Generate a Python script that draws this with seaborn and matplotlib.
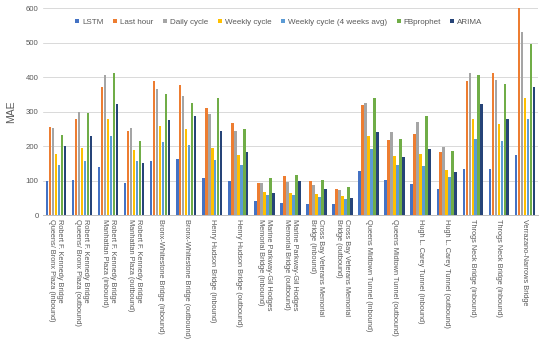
import pandas as pd
import numpy as np
import matplotlib
matplotlib.use("Agg")
import matplotlib.pyplot as plt
import seaborn as sns

# --- data ---
bridges = [
    "Robert F. Kennedy Bridge\nQueens/ Bronx Plaza (inbound)",
    "Robert F. Kennedy Bridge\nQueens/ Bronx Plaza (outbound)",
    "Robert F. Kennedy Bridge\nManhattan Plaza (inbound)",
    "Robert F. Kennedy Bridge\nManhattan Plaza (outbound)",
    "Bronx-Whitestone Bridge (inbound)",
    "Bronx-Whitestone Bridge (outbound)",
    "Henry Hudson Bridge (inbound)",
    "Henry Hudson Bridge (outbound)",
    "Marine Parkway-Gil Hodges\nMemorial Bridge (inbound)",
    "Marine Parkway-Gil Hodges\nMemorial Bridge (outbound)",
    "Cross Bay Veterans Memorial\nBridge (inbound)",
    "Cross Bay Veterans Memorial\nBridge (outbound)",
    "Queens Midtown Tunnel (inbound)",
    "Queens Midtown Tunnel (outbound)",
    "Hugh L. Carey Tunnel (inbound)",
    "Hugh L. Carey Tunnel (outbound)",
    "Throgs Neck Bridge (inbound)",
    "Throgs Neck Bridge (inbound) ",
    "Verrazano-Narrows Bridge",
]
models = ["LSTM", "Last hour", "Daily cycle", "Weekly cycle",
          "Weekly cycle (4 weeks avg)", "FBprophet", "ARIMA"]

lstm = [99, 103, 139, 95, 156, 164, 107, 99, 40, 37, 34, 32, 128, 103, 90, 77, 135, 133, 176]
last_hour = [256, 279, 373, 243, 388, 379, 312, 268, 93, 114, 99, 77, 320, 217, 236, 184, 389, 411, 603]
daily = [254, 300, 406, 252, 367, 346, 295, 245, 93, 96, 88, 74, 326, 240, 271, 198, 411, 391, 530]
weekly = [179, 195, 278, 189, 259, 251, 195, 176, 67, 64, 62, 56, 231, 172, 177, 130, 279, 264, 341]
weekly_4w = [147, 157, 231, 157, 211, 205, 161, 147, 59, 59, 54, 47, 193, 147, 143, 110, 221, 216, 278]
fbprophet = [234, 297, 412, 216, 351, 325, 340, 251, 108, 118, 103, 81, 341, 220, 287, 186, 407, 381, 496]
arima = [200, 231, 322, 151, 275, 289, 245, 184, 65, 99, 76, 50, 240, 170, 193, 125, 323, 278, 371]

colors = ["#4472C4", "#ED7D31", "#A5A5A5", "#FFC000", "#5B9BD5", "#70AD47", "#264478"]

series = [lstm, last_hour, daily, weekly, weekly_4w, fbprophet, arima]
df = pd.DataFrame({
    "Bridge": bridges * len(models),
    "Model": np.repeat(models, len(bridges)),
    "MAE": np.concatenate(series),
})

# --- plot ---
sns.set_style("white")
plt.rcParams["font.family"] = ["Liberation Sans", "DejaVu Sans"]

fig = plt.figure(figsize=(5.5, 3.45), dpi=100)
ax = fig.add_axes([0.078, 0.376, 0.9, 0.6])

sns.barplot(data=df, x="Bridge", y="MAE", hue="Model", palette=colors,
            width=0.8, gap=0.15, linewidth=0, saturation=1, ax=ax, zorder=3)

ax.set_ylim(0, 600)
ax.set_xlim(-0.5, len(bridges) - 0.5)
ax.set_yticks(range(0, 601, 100))
ax.yaxis.grid(True, color="#D9D9D9", linewidth=0.7, zorder=0)
ax.set_axisbelow(True)
for side in ["top", "right", "left"]:
    ax.spines[side].set_visible(False)
ax.spines["bottom"].set_color("#BFBFBF")
ax.spines["bottom"].set_linewidth(0.7)

ax.tick_params(axis="both", length=0, labelsize=5.6, colors="#595959", pad=3)
ax.set_xticks(range(len(bridges)))
ax.set_xticklabels(bridges, rotation=-90, ha="center", va="top",
                   multialignment="left", fontsize=5.3, color="#595959")
ax.set_xlabel("")
ax.set_ylabel("MAE", fontsize=7.5, color="#595959", labelpad=7)

ax.legend(loc="upper center", bbox_to_anchor=(0.477, 0.985), ncol=7,
          frameon=False, fontsize=5.8, handlelength=0.5, handleheight=0.5,
          handletextpad=0.35, columnspacing=1.2, labelcolor="#595959")

plt.savefig("out.png", dpi=100)
